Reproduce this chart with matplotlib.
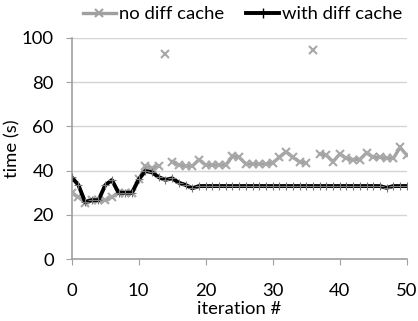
import numpy as np
import matplotlib
matplotlib.use("Agg")
import matplotlib.pyplot as plt

plt.rcParams['font.family'] = ['Lato', 'DejaVu Sans']

iterations = np.arange(51)
no_diff_cache = np.array([
    30, 28, 25.5, 26.5, 26.5, 26.5, 28, 30, 30, 30,
    36, 42, 41, 42, 92.5, 44, 42.5, 42, 42, 45,
    42.5, 42.5, 42.5, 42.5, 46.5, 46, 43, 43, 43, 43,
    43.5, 46, 48.5, 46, 44, 43.5, 94.5, 47.5, 47, 44,
    47.5, 45.5, 45, 45, 48, 46, 46, 45.5, 45.5, 50.5, 47])
with_diff_cache = np.array([
    37, 33.5, 25.8, 26.6, 26.6, 33.4, 35.7, 30, 30, 30,
    36, 39.8, 39.2, 37, 35.8, 36.5, 34.5, 33.5, 32, 33,
    33, 33, 33, 33, 33, 33, 33, 33, 33, 33,
    33, 33, 33, 33, 33, 33, 33, 33, 33, 33,
    33, 33, 33, 33, 33, 33, 33, 32.2, 33, 33, 33])

fs = 13.3

fig = plt.figure(figsize=(4.18, 3.21), dpi=100)
ax = fig.add_axes([0.1715, 0.193, 0.8015, 0.689])

# outliers are shown as markers only, the line skips them
gray_line = np.where(no_diff_cache > 80, np.nan, no_diff_cache)
ax.plot(iterations, gray_line, color='#a0a0a0', lw=2.4, zorder=2)
ax.plot(iterations, no_diff_cache, ls='none', marker='x', ms=6, mew=1.5,
        color='#a8a8a8', zorder=3)
ax.plot(iterations, with_diff_cache, color='black', lw=2.8, marker='+',
        ms=6, mew=0.8, mec='#777777', zorder=4)

# legend handles
h1, = ax.plot([], [], color='#a0a0a0', lw=2.4, marker='x', ms=6, mew=1.5)
h2, = ax.plot([], [], color='black', lw=2.8, marker='+', ms=7, mew=1)
fig.legend([h1, h2], ['no diff cache', 'with diff cache'], loc='upper center',
           bbox_to_anchor=(0.58, 1.015), ncol=2, frameon=False, fontsize=fs,
           handlelength=1.8, handletextpad=0.15, columnspacing=1.2,
           borderaxespad=0.2)

ax.set_xlim(0, 50)
ax.set_ylim(0, 100)
ax.set_xticks([0, 10, 20, 30, 40, 50])
ax.set_yticks([0, 20, 40, 60, 80, 100])
ax.grid(axis='y', color='#d4d4d4', lw=1)
ax.set_axisbelow(True)
for s in ['top', 'right']:
    ax.spines[s].set_visible(False)
for s in ['left', 'bottom']:
    ax.spines[s].set_color('#a0a0a0')
    ax.spines[s].set_linewidth(1.2)
ax.tick_params(colors='#a0a0a0', labelcolor='black', labelsize=fs, length=4)
ax.tick_params(axis='x', pad=13)
ax.tick_params(axis='y', pad=9)
ax.set_xlabel('iteration #', fontsize=fs)
ax.xaxis.set_label_coords(0.5, -0.19)
ax.set_ylabel('time (s)', fontsize=fs, labelpad=1)

fig.savefig('out.png', dpi=100)
